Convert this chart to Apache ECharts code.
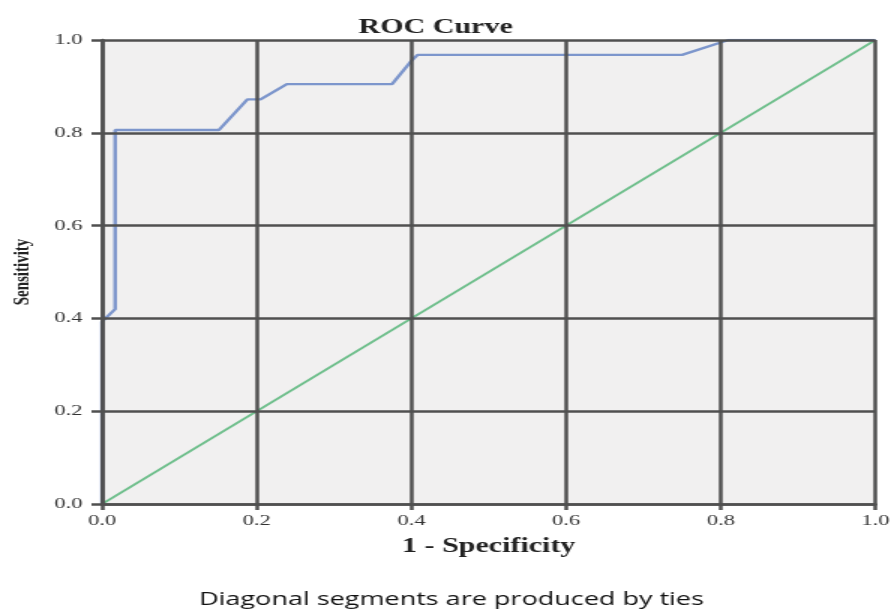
<!DOCTYPE html>
<html>
<head>
<meta charset="utf-8">
<script src="https://cdn.jsdelivr.net/npm/echarts@6/dist/echarts.min.js"></script>
<style>
  html, body { margin: 0; padding: 0; background: #fff; overflow: hidden; }
  /* the source picture is stretched sideways, so the chart is drawn narrow and widened */
  #chart { width: 596px; height: 612px; transform: scaleX(1.5); transform-origin: 0 0; }
</style>
</head>
<body>
<div id="chart"></div>
<script>
// ROC curve points: 1 - specificity / sensitivity
var rocX = [0, 0, 0.017, 0.017, 0.151, 0.188, 0.205, 0.239, 0.375, 0.40, 0.408, 0.75, 0.81, 1.0];
var rocY = [0, 0.393, 0.42, 0.806, 0.806, 0.872, 0.872, 0.905, 0.905, 0.955, 0.968, 0.968, 1.0, 1.0];
// reference diagonal
var refX = [0, 1];
var refY = [0, 1];

function initChart(domId) {
    var myChart = echarts.init(document.getElementById(domId));
    var rocData = rocX.map(function (x, i) { return [x, rocY[i]]; });
    var refData = refX.map(function (x, i) { return [x, refY[i]]; });
    var axisStyle = { color: '#505050', width: 2.5 };
    var labelFmt = function (v) { return v.toFixed(1); };
    var option = {
        animation: false,
        title: {
            text: 'ROC Curve',
            left: 234,
            top: 13,
            textStyle: {
                fontFamily: 'Liberation Serif',
                fontSize: 20,
                fontWeight: 'bold',
                color: '#222'
            }
        },
        grid: {
            left: 66,
            right: 12,
            top: 40,
            bottom: 108,
            show: true,
            backgroundColor: '#f1f0f0',
            borderWidth: 0
        },
        xAxis: {
            type: 'value',
            min: 0,
            max: 1,
            interval: 0.2,
            z: 3,
            name: '1 - Specificity',
            nameLocation: 'middle',
            nameGap: 33,
            nameTextStyle: { fontFamily: 'Liberation Serif', fontSize: 20, fontWeight: 'bold', color: '#222' },
            axisLine: { lineStyle: axisStyle },
            axisTick: { show: true, length: 6, lineStyle: axisStyle },
            axisLabel: { formatter: labelFmt, margin: 10, fontFamily: 'Liberation Serif', fontSize: 15, color: '#333' },
            splitLine: { show: true, lineStyle: axisStyle }
        },
        yAxis: {
            type: 'value',
            min: 0,
            max: 1,
            interval: 0.2,
            z: 3,
            name: 'Sensitivity',
            nameLocation: 'middle',
            nameGap: 45,
            nameTextStyle: { fontFamily: 'Liberation Serif', fontSize: 15, fontWeight: 'bold', color: '#222' },
            axisLine: { lineStyle: axisStyle },
            axisTick: { show: true, length: 7, lineStyle: axisStyle },
            axisLabel: { formatter: labelFmt, margin: 13, fontFamily: 'Liberation Serif', fontSize: 15, color: '#333' },
            splitLine: { show: true, lineStyle: axisStyle }
        },
        series: [
            {
                name: 'Reference',
                type: 'line',
                data: refData,
                showSymbol: false,
                z: 2,
                lineStyle: { color: '#6fbf8c', width: 1.8 }
            },
            {
                name: 'ROC',
                type: 'line',
                data: rocData,
                showSymbol: false,
                z: 2,
                lineStyle: { color: '#7d96cc', width: 2.4 }
            }
        ],
        graphic: [
            {
                type: 'text',
                x: 301,
                y: 591,
                style: {
                    text: 'Diagonal segments are produced by ties',
                    fontFamily: 'Open Sans',
                    fontSize: 18,
                    align: 'center',
                    fill: '#111'
                }
            }
        ]
    };
    myChart.setOption(option);
}

initChart('chart');
</script>
</body>
</html>
